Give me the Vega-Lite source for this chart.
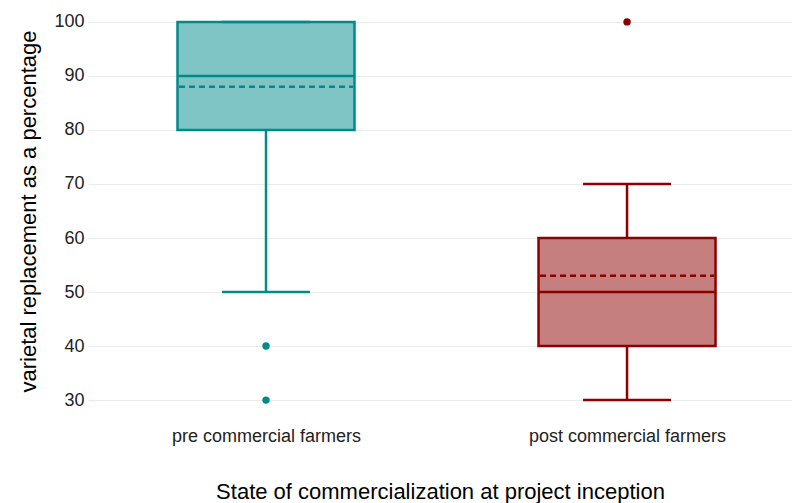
{
  "$schema": "https://vega.github.io/schema/vega-lite/v6.json",
  "autosize": "none",
  "width": 704,
  "height": 416,
  "padding": {"left": 88, "top": 3, "right": 0, "bottom": 84},
  "background": "white",
  "config": {
    "font": "Liberation Sans",
    "view": {"stroke": null},
    "axis": {"labelFont": "Liberation Sans", "titleFont": "Liberation Sans", "titleFontWeight": "normal"}
  },
  "datasets": {
    "summary": [
      {"group": "pre commercial farmers", "lower": 50, "q1": 80, "median": 90, "q3": 100, "upper": 100, "mean": 88},
      {"group": "post commercial farmers", "lower": 30, "q1": 40, "median": 50, "q3": 60, "upper": 70, "mean": 53}
    ],
    "outliers": [
      {"group": "pre commercial farmers", "value": 40},
      {"group": "pre commercial farmers", "value": 30},
      {"group": "post commercial farmers", "value": 100}
    ]
  },
  "encoding": {
    "x": {
      "field": "group", "type": "nominal",
      "sort": ["pre commercial farmers", "post commercial farmers"],
      "scale": {"type": "point", "padding": 0.475, "align": 0.519},
      "axis": {
        "title": "State of commercialization at project inception",
        "titleFontSize": 22, "titleColor": "black", "titlePadding": 36,
        "labelFontSize": 18, "labelColor": "#222222", "labelPadding": 8, "labelLimit": 0,
        "labelAngle": 0, "ticks": false, "domain": false, "grid": false
      }
    },
    "color": {
      "field": "group", "type": "nominal",
      "scale": {"domain": ["pre commercial farmers", "post commercial farmers"], "range": ["#008B8B", "#8B0000"]},
      "legend": null
    }
  },
  "layer": [
    {
      "data": {"name": "summary"},
      "mark": {"type": "rule", "strokeWidth": 2.5},
      "encoding": {
        "y": {
          "field": "q3", "type": "quantitative",
          "scale": {"domain": [26.5, 103.5], "nice": false, "zero": false},
          "axis": {
            "title": "varietal replacement as a percentage",
            "titleFontSize": 22, "titleColor": "black", "titlePadding": 13,
            "labelFontSize": 18, "labelColor": "#222222", "labelPadding": 4,
            "values": [30, 40, 50, 60, 70, 80, 90, 100],
            "ticks": false, "domain": false,
            "gridColor": "#EBEBEB", "gridWidth": 1.2
          }
        },
        "y2": {"field": "upper"}
      }
    },
    {
      "data": {"name": "summary"},
      "mark": {"type": "rule", "strokeWidth": 2.5},
      "encoding": {"y": {"field": "lower", "type": "quantitative"}, "y2": {"field": "q1"}}
    },
    {
      "data": {"name": "summary"},
      "mark": {"type": "rule", "strokeWidth": 2.5, "xOffset": -44, "x2Offset": 44},
      "encoding": {"x2": {"field": "group"}, "y": {"field": "lower", "type": "quantitative"}}
    },
    {
      "data": {"name": "summary"},
      "mark": {"type": "rule", "strokeWidth": 2.5, "xOffset": -44, "x2Offset": 44},
      "encoding": {"x2": {"field": "group"}, "y": {"field": "upper", "type": "quantitative"}}
    },
    {
      "data": {"name": "summary"},
      "mark": {"type": "bar", "size": 177, "fillOpacity": 0.5, "strokeWidth": 2.5},
      "encoding": {
        "y": {"field": "q1", "type": "quantitative"},
        "y2": {"field": "q3"},
        "stroke": {"field": "group", "type": "nominal", "scale": {"domain": ["pre commercial farmers", "post commercial farmers"], "range": ["#008B8B", "#8B0000"]}, "legend": null},
        "fill": {"field": "group", "type": "nominal", "scale": {"domain": ["pre commercial farmers", "post commercial farmers"], "range": ["#008B8B", "#8B0000"]}, "legend": null}
      }
    },
    {
      "data": {"name": "summary"},
      "mark": {"type": "rule", "strokeWidth": 2.5, "xOffset": -88.5, "x2Offset": 88.5},
      "encoding": {"x2": {"field": "group"}, "y": {"field": "median", "type": "quantitative"}}
    },
    {
      "data": {"name": "summary"},
      "mark": {"type": "rule", "strokeWidth": 2.5, "strokeDash": [6, 4], "xOffset": -87, "x2Offset": 87},
      "encoding": {"x2": {"field": "group"}, "y": {"field": "mean", "type": "quantitative"}}
    },
    {
      "data": {"name": "outliers"},
      "mark": {"type": "circle", "size": 55, "opacity": 1},
      "encoding": {"y": {"field": "value", "type": "quantitative"}}
    }
  ]
}
